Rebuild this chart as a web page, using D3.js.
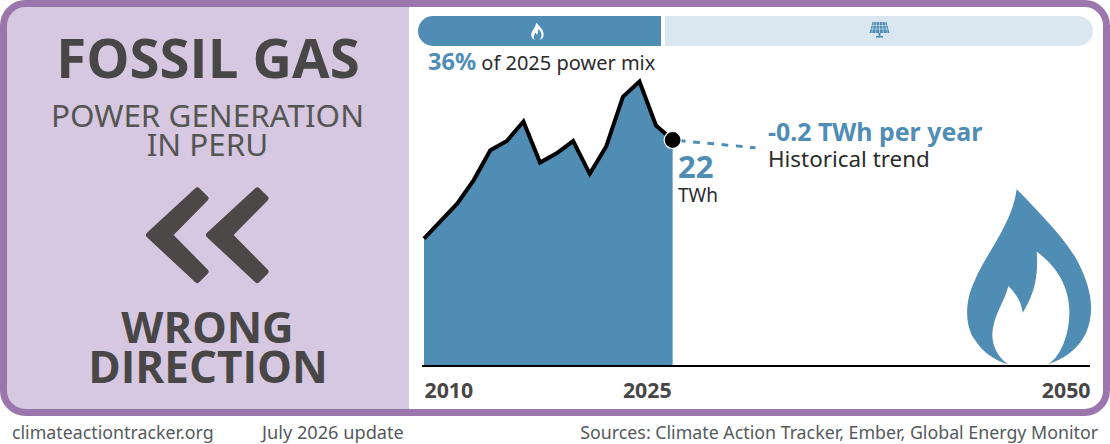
<html>
    <head>
       <script src="https://cdn.jsdelivr.net/npm/d3@7/dist/d3.min.js"></script>
       <style>
           body { margin:0; background:white }
           svg { display:block }
           text { font-family:"Noto Sans" }
           .heavy { font-family:"Open Sans"; font-weight:700 }
       </style>
    </head>
    <body>
        <svg id="Chart" width="1110" height="444"></svg>
        <script>
            let years = [2010,2011,2012,2013,2014,2015,2016,2017,2018,2019,2020,2021,2022,2023,2024,2025]
            let gasTWh = [12.4,14.1,15.8,18.1,21.0,21.9,23.8,19.8,20.7,21.9,18.7,21.4,26.2,27.7,23.4,22.0]
            let trendYears = [2025,2030]
            let trendTWh = [22.0,21.25]
            let tickYears = [2010,2025,2050]
            let gasShare = 36

            let blue = "#4f8db5"
            let lightBlue = "#dbe7f0"
            let purple = "#9b77ae"
            let panel = "#d6c8e0"
            let dark = "#484646"
            let ink = "#2b2b2b"
            let grey = "#55595c"

            let flamePath = "M1016.7,189.3 C1012,225 985,255 975,280 C965,300 964,325 975,340 C983,353 995,360 1008.3,364.6 L1047.3,364.6 C1062,360 1078,350 1086,333 C1095,312 1092,290 1078,262 C1065,238 1035,208 1016.7,189.3 Z " +
                            "M1008.3,364.6 C995,355 990,340 993.3,326.7 C996,312 1005,300 1008.3,286 C1015,293 1021,300 1022.7,312.7 C1032,298 1039,280 1036.7,251.7 C1055,265 1069,285 1069.3,310 C1070,335 1060,358 1047.3,364.6 Z"

            let svg = d3.select("#Chart")

            let xScale = d3.scaleLinear().domain([2010,2050]).range([424,1087])
            let yScale = d3.scaleLinear().domain([0,22]).range([366,140])
            let shareScale = d3.scaleLinear().domain([0,100]).range([418,1093])

            function addText(x,y,txt,size,fill,anchor,cls) {
                return svg.append("text")
                    .attr("x",x).attr("y",y)
                    .attr("font-size",size)
                    .attr("fill",fill)
                    .attr("text-anchor",anchor || "start")
                    .attr("class",cls || null)
                    .text(txt)
            }

            function drawFrame() {
                svg.append("clipPath").attr("id","frameClip")
                   .append("rect").attr("x",3.5).attr("y",3.5).attr("width",1103).attr("height",409).attr("rx",22)
                svg.append("rect").attr("x",0).attr("y",0).attr("width",409).attr("height",416)
                   .attr("fill",panel).attr("clip-path","url(#frameClip)")
                svg.append("rect").attr("x",3.5).attr("y",3.5).attr("width",1103).attr("height",409).attr("rx",22)
                   .attr("fill","none").attr("stroke",purple).attr("stroke-width",7)
            }

            function drawLeftPanel() {
                addText(208,78,"FOSSIL GAS",54.5,dark,"middle","heavy")
                addText(207.5,127,"POWER GENERATION",31.4,"#555","middle")
                addText(207.5,156,"IN PERU",31.4,"#555","middle")
                addText(207.5,343,"WRONG",43.5,dark,"middle","heavy")
                addText(208,383,"DIRECTION",44,dark,"middle","heavy")

                let chevron = "149,235 197.3,190.5 205.5,198.3 169.5,235 205.5,271.7 197.3,280"
                ;[0,60].forEach(dx => {
                    svg.append("polygon").attr("points",chevron)
                       .attr("transform",`translate(${dx},0)`)
                       .attr("fill","#4d4848").attr("stroke","#4d4848")
                       .attr("stroke-width",6).attr("stroke-linejoin","round")
                })
            }

            function drawShareBar() {
                let x0 = shareScale(0), x1 = shareScale(gasShare), x2 = shareScale(100)
                let top = 16, h = 30, r = 15
                svg.append("path")
                   .attr("d",`M${x1},${top} H${x0+r} A${r},${r} 0 0 0 ${x0+r},${top+h} H${x1} Z`)
                   .attr("fill",blue)
                svg.append("path")
                   .attr("d",`M${x1+4},${top} H${x2-r} A${r},${r} 0 0 1 ${x2-r},${top+h} H${x1+4} Z`)
                   .attr("fill",lightBlue)

                // small flame
                svg.append("path").attr("d",flamePath).attr("fill","white").attr("fill-rule","evenodd")
                   .attr("transform","translate(537.5,31.5) scale(0.1) translate(-1029.5,-277)")

                // solar panel
                let solar = svg.append("g").attr("transform","translate(879.5,30)")
                solar.append("path").attr("d","M-7,-8 H7 L10,3 H-10 Z").attr("fill",blue)
                d3.range(-6,7,3).forEach(d => {
                    solar.append("line").attr("x1",d*0.9).attr("y1",-8).attr("x2",d*1.3).attr("y2",3)
                         .attr("stroke",lightBlue).attr("stroke-width",0.6)
                })
                ;[-4.5,-1].forEach(d => {
                    solar.append("line").attr("x1",-10).attr("y1",d).attr("x2",10).attr("y2",d)
                         .attr("stroke",lightBlue).attr("stroke-width",0.6)
                })
                solar.append("rect").attr("x",-1).attr("y",3).attr("width",2).attr("height",4).attr("fill",blue)
                solar.append("rect").attr("x",-3.5).attr("y",6).attr("width",7).attr("height",1.6).attr("fill",blue)

                let label = addText(428,70,"",20,ink)
                label.append("tspan").attr("font-weight",700).attr("font-size",23.5).attr("fill",blue).text(gasShare + "%")
                label.append("tspan").text(" of 2025 power mix")
            }

            function drawChart() {
                let points = years.map((y,i) => ({year:y, value:gasTWh[i]}))

                let area = d3.area().x(d => xScale(d.year)).y0(yScale(0)).y1(d => yScale(d.value))
                let line = d3.line().x(d => xScale(d.year)).y(d => yScale(d.value))

                svg.append("path").datum(points).attr("d",area).attr("fill",blue)
                svg.append("path").datum(points).attr("d",line)
                   .attr("fill","none").attr("stroke","black").attr("stroke-width",4).attr("stroke-linejoin","miter")

                svg.append("path").datum(trendYears.map((y,i) => ({year:y, value:trendTWh[i]})))
                   .attr("d",line).attr("fill","none").attr("stroke",blue)
                   .attr("stroke-width",3).attr("stroke-dasharray","6.7 7.6").attr("stroke-dashoffset",8)

                svg.append("circle").attr("cx",xScale(2025)).attr("cy",yScale(22)).attr("r",8.5)
                   .attr("fill","black").attr("stroke","white").attr("stroke-width",1.2)

                // flame sits on the axis
                svg.append("path").attr("d",flamePath).attr("fill",blue).attr("fill-rule","evenodd")

                let xAxis = d3.axisBottom(xScale).tickValues(tickYears).tickFormat(d3.format("d")).tickSize(0).tickPadding(0)
                let axis = svg.append("g").attr("transform",`translate(0,${yScale(0)})`).call(xAxis)
                axis.select(".domain").remove()
                axis.selectAll("text")
                    .attr("y",32).attr("dy",0)
                    .attr("font-size",21.3).attr("font-weight",700).attr("fill",dark)
                    .attr("style",'font-family:"Noto Sans"')
                    .attr("text-anchor",d => d == 2010 ? "start" : "end")
                    .attr("dx",d => d == 2050 ? 3 : d == 2025 ? -1.5 : 0)

                svg.append("line").attr("x1",422).attr("x2",1090).attr("y1",yScale(0)).attr("y2",yScale(0))
                   .attr("stroke","black").attr("stroke-width",2)

                addText(678,178,"22",31,blue).attr("font-weight",700)
                addText(678,202,"TWh",19,ink)
                addText(768,141,"-0.2 TWh per year",24.9,blue).attr("font-weight",700)
                addText(768,167,"Historical trend",22.4,ink)
            }

            function drawFooter() {
                addText(12,438.5,"climateactiontracker.org",17.8,grey)
                addText(262,438.5,"July 2026 update",18.2,grey)
                addText(1098,438.5,"Sources: Climate Action Tracker, Ember, Global Energy Monitor",17.8,grey,"end")
            }

            drawFrame()
            drawLeftPanel()
            drawShareBar()
            drawChart()
            drawFooter()
        </script>
    </body>
</html>
